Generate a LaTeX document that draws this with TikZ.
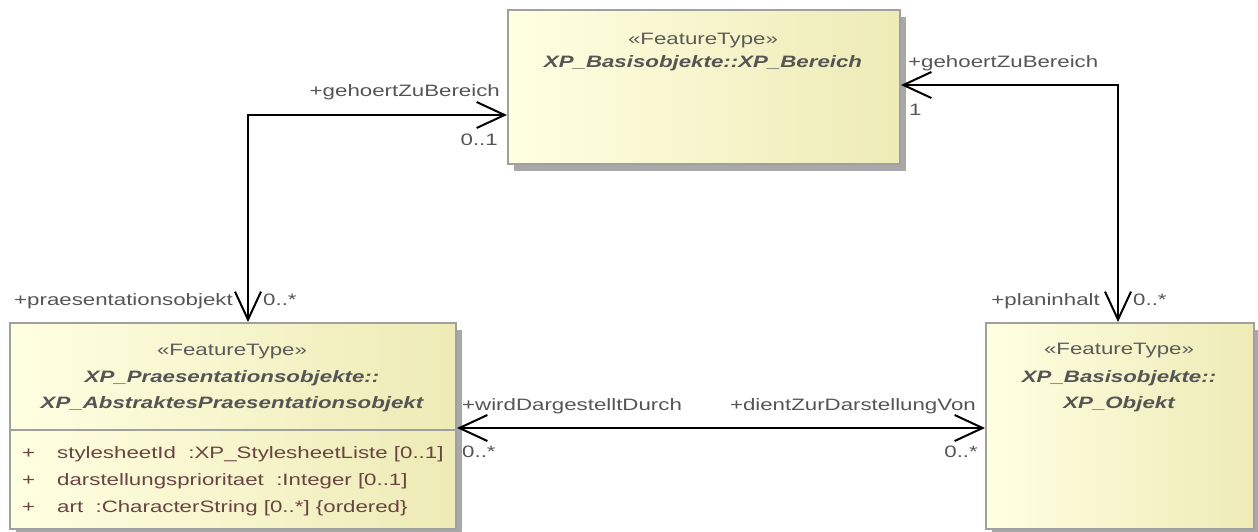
\documentclass[tikz,border=0pt]{standalone}
\usepackage{fontspec}
\setmainfont{Liberation Sans}[FakeStretch=1.35]
\usetikzlibrary{arrows.meta,shadows}
\definecolor{boxline}{HTML}{A0A0A0}
\definecolor{boxshadow}{HTML}{A8A8A8}
\definecolor{fillleft}{HTML}{FFFFE2}
\definecolor{fillright}{HTML}{EEEBB6}
\definecolor{nametext}{HTML}{555555}
\definecolor{stereotext}{HTML}{5A5A5A}
\definecolor{attrtext}{HTML}{6A4444}
\definecolor{roletext}{HTML}{555555}
\tikzset{
  umlfont/.style={font=\fontsize{16.5}{19.8}\selectfont},
  classbox/.style={draw=boxline, line width=2pt, rectangle, anchor=north west,
    left color=fillleft, right color=fillright, inner sep=0pt,
    drop shadow={shadow xshift=6pt, shadow yshift=-7pt, fill=boxshadow, opacity=1}},
  stereo/.style={umlfont, text=stereotext, anchor=base, inner sep=0pt},
  cname/.style={umlfont, text=nametext, anchor=base, inner sep=0pt, font=\fontsize{16.5}{19.8}\selectfont\bfseries\itshape},
  attr/.style={umlfont, text=attrtext, anchor=base west, inner sep=0pt},
  role/.style={umlfont, text=roletext, inner sep=0pt},
  assoc/.style={draw=black, line width=2pt,
    {Straight Barb[length=28pt, width=26pt, line width=2pt]}-{Straight Barb[length=28pt, width=26pt, line width=2pt]}},
}
\begin{document}
\begin{tikzpicture}[x=1pt, y=-1pt]
\useasboundingbox (0,0) rectangle (1258,531);

% class boxes
\node[classbox, minimum width=392pt, minimum height=154pt] (bereich) at (507,9) {};
\node[classbox, minimum width=446pt, minimum height=206pt] (praes) at (9,322) {};
\node[classbox, minimum width=268pt, minimum height=206pt] (objekt) at (985,322) {};

% compartment divider of the presentation class
\coordinate (div) at (0,430);
\draw[boxline, line width=2pt] (praes.west |- div) -- (praes.east |- div);

% XP_Bereich
\node[stereo] (bereichst) at (703,44) {«FeatureType»};
\node[cname] (bereichnm) at (703,67) {XP\_Basisobjekte::XP\_Bereich};

% XP_AbstraktesPraesentationsobjekt
\node[stereo] (praesst) at (232,355) {«FeatureType»};
\node[cname] (praesnm1) at (232,382) {XP\_Praesentationsobjekte::};
\node[cname] (praesnm2) at (232,408) {XP\_AbstraktesPraesentationsobjekt};
\node[attr] (vis1) at (22,458) {+};
\node[attr] (vis2) at (22,485) {+};
\node[attr] (vis3) at (22,512) {+};
\node[attr] (att1) at (57,458) {stylesheetId\ \ :XP\_StylesheetListe [0..1]};
\node[attr] (att2) at (57,485) {darstellungsprioritaet\ \ :Integer [0..1]};
\node[attr] (att3) at (57,512) {art\ \ :CharacterString [0..*] \{ordered\}};

% XP_Objekt
\node[stereo] (objektst) at (1119,354) {«FeatureType»};
\node[cname] (objektnm1) at (1119,382) {XP\_Basisobjekte::};
\node[cname] (objektnm2) at (1119,408) {XP\_Objekt};

% associations
\coordinate (bendA) at (248,115);
\coordinate (bendB) at (1118,85);
\coordinate (lineC) at (0,428);
\draw[assoc] (praes.north -| bendA) |- (bereich.west |- bendA);
\draw[assoc] (bereich.east |- bendB) -| (objekt.north -| bendB);
\draw[assoc] (praes.east |- lineC) -- (objekt.west |- lineC);

% association end labels
\node[role, anchor=base east] (rA1) at (500,96) {+gehoertZuBereich};
\node[role, anchor=base east] (mA1) at (498,145) {0..1};
\node[role, anchor=base west] (rA2) at (14,305) {+praesentationsobjekt};
\node[role, anchor=base west] (mA2) at (263,305) {0..*};

\node[role, anchor=base west] (rB1) at (908,67) {+gehoertZuBereich};
\node[role, anchor=base west] (mB1) at (909,115) {1};
\node[role, anchor=base east] (rB2) at (1100,305) {+planinhalt};
\node[role, anchor=base west] (mB2) at (1133,305) {0..*};

\node[role, anchor=base west] (rC1) at (462,410) {+wirdDargestelltDurch};
\node[role, anchor=base west] (mC1) at (462,457) {0..*};
\node[role, anchor=base east] (rC2) at (976,410) {+dientZurDarstellungVon};
\node[role, anchor=base east] (mC2) at (978,457) {0..*};
\end{tikzpicture}
\end{document}
